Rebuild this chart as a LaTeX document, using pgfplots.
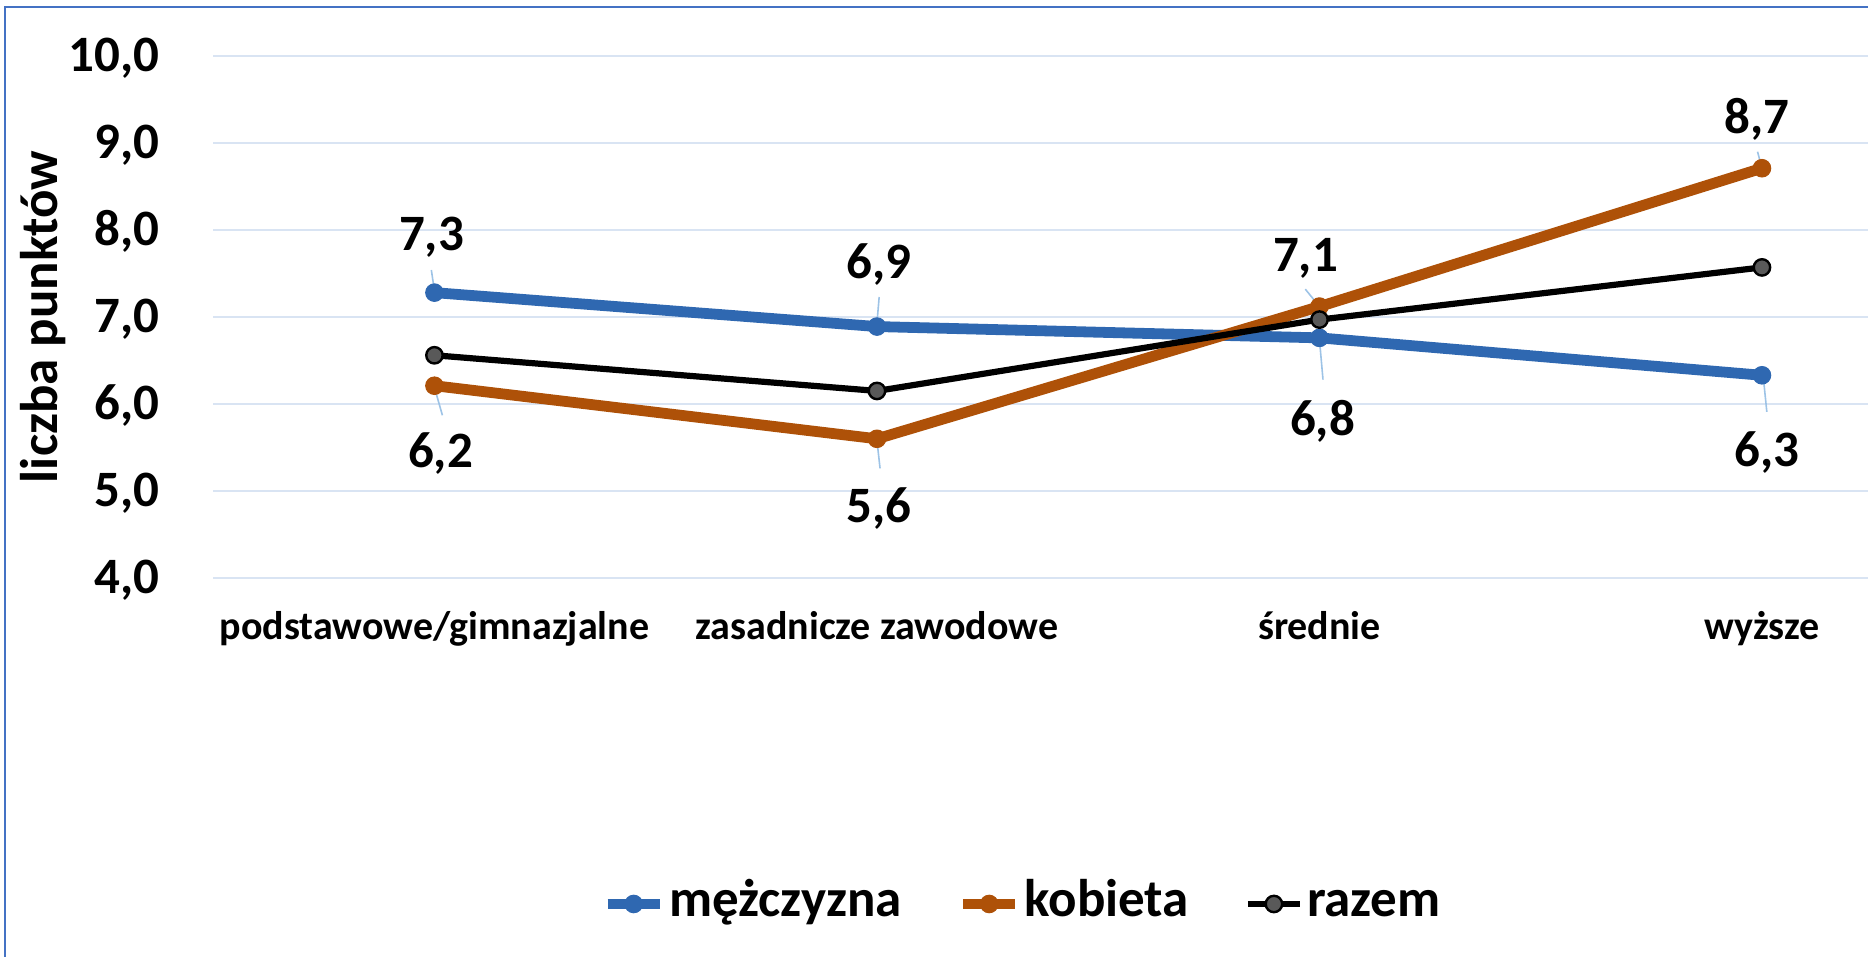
\documentclass[border=0pt]{standalone}
\usepackage{fontspec}
\setmainfont{Carlito}
\usepackage{pgfplots}
\usepackage{pgfplotstable}
\pgfplotsset{compat=1.18}

\definecolor{mblue}{RGB}{47,104,177}
\definecolor{korange}{RGB}{174,81,8}
\definecolor{rgray}{RGB}{89,89,89}
\definecolor{gridc}{RGB}{217,228,243}
\definecolor{leaderc}{RGB}{157,195,230}
\definecolor{framec}{RGB}{68,114,196}

% mezczyzna: x, value, label x-offset (pt), label baseline offset (pt)
\pgfplotstableread{
x y dx dy
0 7.28 -1.5 21.25
1 6.89 1 24.25
2 6.76 1.5 -49
3 6.33 2.5 -45.5
}\mtab
% kobieta
\pgfplotstableread{
x y dx dy
0 6.21 3 -41
1 5.60 1 -42
2 7.12 -7 17.5
3 8.71 -2.5 17.5
}\ktab
% razem
\pgfplotstableread{
x y
0 6.56
1 6.15
2 6.97
3 7.57
}\rtab
% leader lines of the data labels
\pgfplotstableread{
x y
-0.007 7.54
0 7.30
nan nan
1.005 7.23
1.0 6.93
nan nan
2.0 6.74
2.008 6.28
nan nan
3.003 6.31
3.011 5.91
nan nan
0 6.19
0.018 5.87
nan nan
1.0 5.58
1.007 5.26
nan nan
1.968 7.32
2.0 7.12
nan nan
2.99 8.90
3.0 8.71
}\leadtab

\begin{document}
\begin{tikzpicture}
\useasboundingbox (0,0) rectangle (934pt,478.5pt);
\clip (0,0) rectangle (934pt,478.5pt);
\begin{axis}[
  at={(106.6pt,189.5pt)}, anchor=south west,
  scale only axis, width=885pt, height=261pt,
  xmin=-0.5, xmax=3.5, ymin=4, ymax=10,
  xtick={0,1,2,3},
  xticklabels={podstawowe/gimnazjalne, zasadnicze zawodowe, średnie, wyższe},
  ytick={4,5,6,7,8,9,10},
  /pgf/number format/fixed,
  /pgf/number format/fixed zerofill,
  /pgf/number format/precision=1,
  /pgf/number format/use comma,
  /pgf/number format/assume math mode=true,
  font=\bfseries,
  axis line style={draw=none},
  tick style={draw=none},
  major tick length=0pt,
  ymajorgrids, grid style={gridc, line width=1pt},
  yticklabel style={font=\bfseries\fontsize{25.5}{30}\selectfont, anchor=base east, inner sep=0pt, xshift=-26.6pt, yshift=-8pt},
  xticklabel style={font=\bfseries\fontsize{20}{24}\selectfont, anchor=base, inner sep=0pt, yshift=-31pt},
  ylabel={liczba punktów},
  ylabel style={font=\bfseries\fontsize{26.5}{30}\selectfont, at={(rel axis cs:-0.0962,0.5)}, anchor=center, inner sep=0pt},
  legend style={at={(rel axis cs:0.2196,-0.6245)}, anchor=west, draw=none, fill=none,
    font=\bfseries\fontsize{26.5}{30}\selectfont, inner sep=0pt,
    nodes={inner sep=0pt, text height=19pt, text depth=6pt},
    /tikz/every odd column/.append style={column sep=2pt},
    /tikz/every even column/.append style={column sep=28pt}},
  legend columns=-1,
  legend image code/.code={\draw[mark repeat=2,mark phase=2,#1] plot coordinates {(0pt,0pt) (13pt,0pt) (26pt,0pt)};},
  every node near coord/.append style={anchor=base, inner sep=0pt, text=black, font=\bfseries\fontsize{25.5}{30}\selectfont},
]
\addplot[color=mblue, line width=5.4pt, line join=round, mark=*, mark size=4.4pt,
  mark options={line width=0.5pt, fill=mblue, draw=mblue},
  nodes near coords,
  visualization depends on={\thisrow{dx}\as\dx},
  visualization depends on={\thisrow{dy}\as\dy},
  every node near coord/.append style={xshift=\dx pt, yshift=\dy pt}]
  table[x=x,y=y] {\mtab};
\addlegendentry{mężczyzna}
\addplot[color=korange, line width=5.4pt, line join=round, mark=*, mark size=4.4pt,
  mark options={line width=0.5pt, fill=korange, draw=korange},
  nodes near coords,
  visualization depends on={\thisrow{dx}\as\dx},
  visualization depends on={\thisrow{dy}\as\dy},
  every node near coord/.append style={xshift=\dx pt, yshift=\dy pt}]
  table[x=x,y=y] {\ktab};
\addlegendentry{kobieta}
\addplot[color=black, line width=3.1pt, line join=round, mark=*, mark size=4.1pt,
  mark options={line width=1.2pt, fill=rgray, draw=black}]
  table[x=x,y=y] {\rtab};
\addlegendentry{razem}
\addplot[leaderc, line width=0.8pt, unbounded coords=jump, forget plot] table[x=x,y=y] {\leadtab};
\end{axis}
\draw[framec, line width=1pt] (2.5pt,-20pt) rectangle (960pt,475.2pt);
\end{tikzpicture}
\end{document}
